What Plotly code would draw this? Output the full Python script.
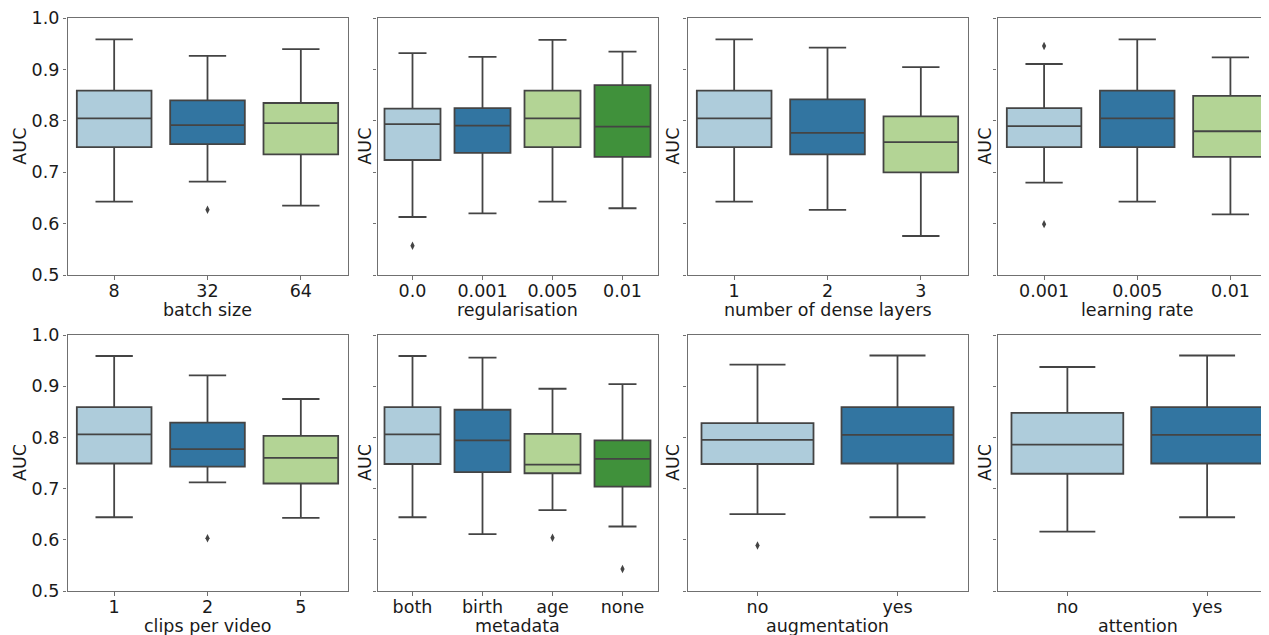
import plotly.graph_objects as go

# ---------------- data ----------------
batch_cats = ["8", "32", "64"]
batch_low = [0.643, 0.682, 0.635]
batch_q1 = [0.749, 0.755, 0.735]
batch_med = [0.805, 0.792, 0.796]
batch_q3 = [0.859, 0.840, 0.835]
batch_high = [0.959, 0.927, 0.940]
batch_out = [[], [0.627], []]

reg_cats = ["0.0", "0.001", "0.005", "0.01"]
reg_low = [0.613, 0.620, 0.643, 0.630]
reg_q1 = [0.724, 0.738, 0.749, 0.730]
reg_med = [0.794, 0.791, 0.805, 0.789]
reg_q3 = [0.824, 0.825, 0.859, 0.870]
reg_high = [0.932, 0.925, 0.958, 0.935]
reg_out = [[0.557], [], [], []]

dense_cats = ["1", "2", "3"]
dense_low = [0.643, 0.627, 0.576]
dense_q1 = [0.749, 0.735, 0.700]
dense_med = [0.805, 0.777, 0.759]
dense_q3 = [0.859, 0.842, 0.809]
dense_high = [0.959, 0.943, 0.905]
dense_out = [[], [], []]

lr_cats = ["0.001", "0.005", "0.01"]
lr_low = [0.680, 0.643, 0.618]
lr_q1 = [0.749, 0.749, 0.730]
lr_med = [0.790, 0.805, 0.780]
lr_q3 = [0.825, 0.859, 0.849]
lr_high = [0.911, 0.959, 0.924]
lr_out = [[0.946, 0.599], [], []]

clips_cats = ["1", "2", "5"]
clips_low = [0.644, 0.712, 0.643]
clips_q1 = [0.749, 0.743, 0.710]
clips_med = [0.806, 0.777, 0.760]
clips_q3 = [0.859, 0.829, 0.803]
clips_high = [0.959, 0.921, 0.875]
clips_out = [[], [0.603], []]

meta_cats = ["both", "birth", "age", "none"]
meta_low = [0.644, 0.611, 0.658, 0.626]
meta_q1 = [0.748, 0.732, 0.730, 0.704]
meta_med = [0.806, 0.794, 0.747, 0.758]
meta_q3 = [0.859, 0.854, 0.807, 0.794]
meta_high = [0.959, 0.956, 0.895, 0.904]
meta_out = [[], [], [0.604], [0.543]]

aug_cats = ["no", "yes"]
aug_low = [0.650, 0.644]
aug_q1 = [0.748, 0.749]
aug_med = [0.795, 0.805]
aug_q3 = [0.828, 0.859]
aug_high = [0.942, 0.960]
aug_out = [[0.589], []]

att_cats = ["no", "yes"]
att_low = [0.616, 0.644]
att_q1 = [0.729, 0.749]
att_med = [0.786, 0.805]
att_q3 = [0.848, 0.859]
att_high = [0.9375, 0.960]
att_out = [[], []]

x_titles = ["batch size", "regularisation", "number of dense layers", "learning rate",
            "clips per video", "metadata", "augmentation", "attention"]
y_title = "AUC"
y_ticks = [0.5, 0.6, 0.7, 0.8, 0.9, 1.0]
y_tick_text = ["0.5", "0.6", "0.7", "0.8", "0.9", "1.0"]

palette = ["#aeccdb", "#3275a1", "#b3d495", "#40913b"]

panels = [
    (batch_cats, batch_low, batch_q1, batch_med, batch_q3, batch_high, batch_out),
    (reg_cats, reg_low, reg_q1, reg_med, reg_q3, reg_high, reg_out),
    (dense_cats, dense_low, dense_q1, dense_med, dense_q3, dense_high, dense_out),
    (lr_cats, lr_low, lr_q1, lr_med, lr_q3, lr_high, lr_out),
    (clips_cats, clips_low, clips_q1, clips_med, clips_q3, clips_high, clips_out),
    (meta_cats, meta_low, meta_q1, meta_med, meta_q3, meta_high, meta_out),
    (aug_cats, aug_low, aug_q1, aug_med, aug_q3, aug_high, aug_out),
    (att_cats, att_low, att_q1, att_med, att_q3, att_high, att_out),
]

# ---------------- layout geometry (page pixels; page body has an 8px margin) ----------------
W, H = 1269, 635
OFF = 8.0
col_left = [67.5, 377.5, 687.5, 997.5]
panel_w = 280.0
row_top = [18.3, 335.0]
row_bot = [275.0, 591.0]
xlabel_y = [310.0, 626.0]
auc_x = [20.0, 365.0, 673.0, 985.0]

FONT = "DejaVu Sans"
FS = 17.5
TXT = "#1a1a1a"
EDGE = "#444444"
FRAME = "#707070"
TICKLEN = 3.5


def px(x):
    return (x - OFF) / W


def py(y):
    return (H - (y - OFF)) / H


fig = go.Figure()
layout = dict(
    width=W, height=H,
    margin=dict(l=0, r=0, t=0, b=0, pad=0, autoexpand=False),
    paper_bgcolor="white", plot_bgcolor="white",
    showlegend=False,
    font=dict(family=FONT, size=FS, color=TXT),
)
annotations = []

for i, (cats, low, q1, med, q3, high, outs) in enumerate(panels):
    r, c = divmod(i, 4)
    n = len(cats)
    ax_id = "" if i == 0 else str(i + 1)
    xa, ya = "x" + ax_id, "y" + ax_id
    left = col_left[c]
    right = left + panel_w

    for j, cat in enumerate(cats):
        fig.add_trace(go.Box(
            x=[cat], q1=[q1[j]], median=[med[j]], q3=[q3[j]],
            lowerfence=[low[j]], upperfence=[high[j]],
            fillcolor=palette[j], line=dict(color=EDGE, width=1.8),
            width=0.8, whiskerwidth=0.5, boxpoints=False,
            xaxis=xa, yaxis=ya, hoverinfo="skip",
        ))
        if outs[j]:
            fig.add_trace(go.Scatter(
                x=[cat] * len(outs[j]), y=outs[j], mode="markers",
                marker=dict(symbol="diamond-tall", size=6, color=EDGE),
                xaxis=xa, yaxis=ya, hoverinfo="skip",
            ))

    layout["xaxis" + ax_id] = dict(
        domain=[px(left), min(px(right), 1.0)], anchor=ya, type="category",
        categoryorder="array", categoryarray=cats, automargin=False,
        range=[-0.5, n - 0.5], showgrid=False, zeroline=False,
        showline=True, linecolor=FRAME, linewidth=1.3, mirror=True,
        ticks="outside", ticklen=TICKLEN, tickwidth=1.2, tickcolor=FRAME,
        ticklabelstandoff=-4,
        tickfont=dict(family=FONT, size=FS, color=TXT),
    )
    layout["yaxis" + ax_id] = dict(
        domain=[py(row_bot[r]), py(row_top[r])], anchor=xa, range=[0.5, 1.0],
        tickmode="array", tickvals=y_ticks, ticktext=y_tick_text, automargin=False,
        showticklabels=(c == 0), showgrid=False, zeroline=False,
        showline=True, linecolor=FRAME, linewidth=1.3, mirror=True,
        ticks="outside", ticklen=TICKLEN, tickwidth=1.2, tickcolor=FRAME,
        tickfont=dict(family=FONT, size=FS, color=TXT),
    )
    annotations.append(dict(
        text=x_titles[i], xref="paper", yref="paper",
        x=px(left + panel_w / 2), y=py(xlabel_y[r]),
        xanchor="center", yanchor="middle", showarrow=False,
        font=dict(family=FONT, size=FS, color=TXT),
    ))
    annotations.append(dict(
        text=y_title, xref="paper", yref="paper", textangle=-90,
        x=px(auc_x[c]), y=py((row_top[r] + row_bot[r]) / 2),
        xanchor="center", yanchor="middle", showarrow=False,
        font=dict(family=FONT, size=FS, color=TXT),
    ))

layout["annotations"] = annotations
fig.update_layout(**layout)
fig.write_html("out.html")
